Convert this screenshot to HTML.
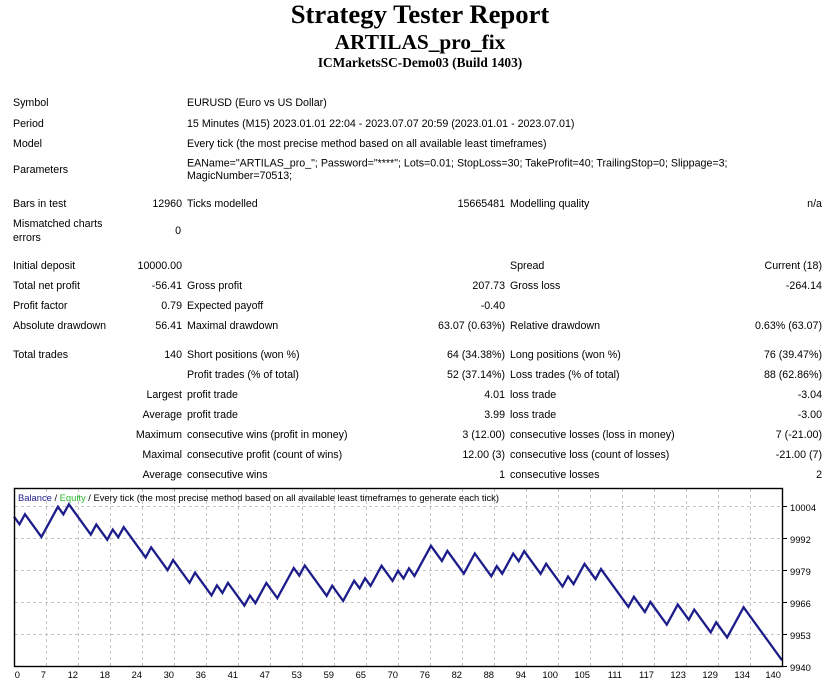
<!DOCTYPE html>
<html>
<head>
<meta charset="utf-8">
<style>
html,body{margin:0;padding:0;background:#fff;}
svg{display:block;}
.t{font-family:"Liberation Sans",Arial,sans-serif;font-size:10.67px;fill:#000;}
.r{text-anchor:end;}
.h{font-family:"Liberation Serif","Times New Roman",serif;font-weight:bold;fill:#000;text-anchor:middle;}
.c{font-family:"Liberation Sans",Arial,sans-serif;font-size:9.4px;fill:#000;}
</style>
</head>
<body>
<svg width="839" height="687" viewBox="0 0 839 687" xmlns="http://www.w3.org/2000/svg">
<rect width="839" height="687" fill="#fff"/>

<!-- Header -->
<text class="h" x="420" y="23" font-size="26.67">Strategy Tester Report</text>
<text class="h" x="420" y="49" font-size="21.33">ARTILAS_pro_fix</text>
<text class="h" x="420" y="67" font-size="13.33">ICMarketsSC-Demo03 (Build 1403)</text>

<!-- Info block -->
<text class="t" x="13" y="106">Symbol</text>
<text class="t" x="187" y="106">EURUSD (Euro vs US Dollar)</text>

<text class="t" x="13" y="127">Period</text>
<text class="t" x="187" y="127">15 Minutes (M15) 2023.01.01 22:04 - 2023.07.07 20:59 (2023.01.01 - 2023.07.01)</text>

<text class="t" x="13" y="147">Model</text>
<text class="t" x="187" y="147">Every tick (the most precise method based on all available least timeframes)</text>

<text class="t" x="13" y="173">Parameters</text>
<text class="t" x="187" y="166.5">EAName="ARTILAS_pro_"; Password="****"; Lots=0.01; StopLoss=30; TakeProfit=40; TrailingStop=0; Slippage=3;</text>
<text class="t" x="187" y="179">MagicNumber=70513;</text>

<text class="t" x="13" y="207">Bars in test</text>
<text class="t r" x="182" y="207">12960</text>
<text class="t" x="187" y="207">Ticks modelled</text>
<text class="t r" x="505" y="207">15665481</text>
<text class="t" x="510" y="207">Modelling quality</text>
<text class="t r" x="822" y="207">n/a</text>

<text class="t" x="13" y="227">Mismatched charts</text>
<text class="t" x="13" y="241">errors</text>
<text class="t r" x="181" y="234">0</text>

<!-- Results -->
<text class="t" x="13" y="269">Initial deposit</text>
<text class="t r" x="182" y="269">10000.00</text>
<text class="t" x="510" y="269">Spread</text>
<text class="t r" x="822" y="269">Current (18)</text>

<text class="t" x="13" y="289">Total net profit</text>
<text class="t r" x="182" y="289">-56.41</text>
<text class="t" x="187" y="289">Gross profit</text>
<text class="t r" x="505" y="289">207.73</text>
<text class="t" x="510" y="289">Gross loss</text>
<text class="t r" x="822" y="289">-264.14</text>

<text class="t" x="13" y="309">Profit factor</text>
<text class="t r" x="182" y="309">0.79</text>
<text class="t" x="187" y="309">Expected payoff</text>
<text class="t r" x="505" y="309">-0.40</text>

<text class="t" x="13" y="329">Absolute drawdown</text>
<text class="t r" x="182" y="329">56.41</text>
<text class="t" x="187" y="329">Maximal drawdown</text>
<text class="t r" x="505" y="329">63.07 (0.63%)</text>
<text class="t" x="510" y="329">Relative drawdown</text>
<text class="t r" x="822" y="329">0.63% (63.07)</text>

<text class="t" x="13" y="358">Total trades</text>
<text class="t r" x="182" y="358">140</text>
<text class="t" x="187" y="358">Short positions (won %)</text>
<text class="t r" x="505" y="358">64 (34.38%)</text>
<text class="t" x="510" y="358">Long positions (won %)</text>
<text class="t r" x="822" y="358">76 (39.47%)</text>

<text class="t" x="187" y="378">Profit trades (% of total)</text>
<text class="t r" x="505" y="378">52 (37.14%)</text>
<text class="t" x="510" y="378">Loss trades (% of total)</text>
<text class="t r" x="822" y="378">88 (62.86%)</text>

<text class="t r" x="182" y="398">Largest</text>
<text class="t" x="187" y="398">profit trade</text>
<text class="t r" x="505" y="398">4.01</text>
<text class="t" x="510" y="398">loss trade</text>
<text class="t r" x="822" y="398">-3.04</text>

<text class="t r" x="182" y="418">Average</text>
<text class="t" x="187" y="418">profit trade</text>
<text class="t r" x="505" y="418">3.99</text>
<text class="t" x="510" y="418">loss trade</text>
<text class="t r" x="822" y="418">-3.00</text>

<text class="t r" x="182" y="438">Maximum</text>
<text class="t" x="187" y="438">consecutive wins (profit in money)</text>
<text class="t r" x="505" y="438">3 (12.00)</text>
<text class="t" x="510" y="438">consecutive losses (loss in money)</text>
<text class="t r" x="822" y="438">7 (-21.00)</text>

<text class="t r" x="182" y="458">Maximal</text>
<text class="t" x="187" y="458">consecutive profit (count of wins)</text>
<text class="t r" x="505" y="458">12.00 (3)</text>
<text class="t" x="510" y="458">consecutive loss (count of losses)</text>
<text class="t r" x="822" y="458">-21.00 (7)</text>

<text class="t r" x="182" y="478">Average</text>
<text class="t" x="187" y="478">consecutive wins</text>
<text class="t r" x="505" y="478">1</text>
<text class="t" x="510" y="478">consecutive losses</text>
<text class="t r" x="822" y="478">2</text>

<!-- Chart grid -->
<g stroke="#c4c4c4" stroke-width="1" stroke-dasharray="3,3" fill="none">
  <line x1="15" y1="506.5" x2="782" y2="506.5"/>
  <line x1="15" y1="538.5" x2="782" y2="538.5"/>
  <line x1="15" y1="570.5" x2="782" y2="570.5"/>
  <line x1="15" y1="602.5" x2="782" y2="602.5"/>
  <line x1="15" y1="634.5" x2="782" y2="634.5"/>
  <line x1="46.5" y1="489" x2="46.5" y2="666"/>
  <line x1="78.5" y1="489" x2="78.5" y2="666"/>
  <line x1="110.5" y1="489" x2="110.5" y2="666"/>
  <line x1="142.5" y1="489" x2="142.5" y2="666"/>
  <line x1="174.5" y1="489" x2="174.5" y2="666"/>
  <line x1="206.5" y1="489" x2="206.5" y2="666"/>
  <line x1="238.5" y1="489" x2="238.5" y2="666"/>
  <line x1="270.5" y1="489" x2="270.5" y2="666"/>
  <line x1="302.5" y1="489" x2="302.5" y2="666"/>
  <line x1="334.5" y1="489" x2="334.5" y2="666"/>
  <line x1="366.5" y1="489" x2="366.5" y2="666"/>
  <line x1="398.5" y1="489" x2="398.5" y2="666"/>
  <line x1="430.5" y1="489" x2="430.5" y2="666"/>
  <line x1="462.5" y1="489" x2="462.5" y2="666"/>
  <line x1="494.5" y1="489" x2="494.5" y2="666"/>
  <line x1="526.5" y1="489" x2="526.5" y2="666"/>
  <line x1="558.5" y1="489" x2="558.5" y2="666"/>
  <line x1="590.5" y1="489" x2="590.5" y2="666"/>
  <line x1="622.5" y1="489" x2="622.5" y2="666"/>
  <line x1="654.5" y1="489" x2="654.5" y2="666"/>
  <line x1="686.5" y1="489" x2="686.5" y2="666"/>
  <line x1="718.5" y1="489" x2="718.5" y2="666"/>
  <line x1="750.5" y1="489" x2="750.5" y2="666"/>
</g>

<!-- Chart title -->
<text class="c" x="18" y="501" textLength="481" lengthAdjust="spacingAndGlyphs"><tspan fill="#1c1c8a">Balance</tspan> / <tspan fill="#2cb82c">Equity</tspan> / Every tick (the most precise method based on all available least timeframes to generate each tick)</text>

<!-- Balance line -->
<polyline fill="none" stroke="#1c1c8a" stroke-width="2.3" stroke-linejoin="miter" stroke-linecap="butt" points="14,516.7 19.49,524.27 24.97,514.22 41.43,536.93 57.89,506.78 63.37,514.35 68.86,504.3 90.8,534.58 96.29,524.53 107.26,539.67 112.74,529.62 118.23,537.19 123.71,527.14 145.66,557.42 151.14,547.37 167.6,570.08 173.09,560.03 189.54,582.74 195.03,572.69 211.49,595.4 216.97,585.35 222.46,592.92 227.94,582.87 244.4,605.58 249.89,595.53 255.37,603.1 266.34,583 277.31,598.14 293.77,567.99 299.26,575.56 304.74,565.51 326.69,595.79 332.17,585.74 343.14,600.88 354.11,580.78 359.6,588.35 365.09,578.3 370.57,585.87 381.54,565.77 392.51,580.91 398,570.86 403.49,578.43 408.97,568.38 414.46,575.95 430.91,545.8 441.89,560.94 447.37,550.89 463.83,573.6 474.8,553.5 491.26,576.21 496.74,566.16 502.23,573.73 513.2,553.63 518.69,561.2 524.17,551.15 540.63,573.86 546.11,563.81 562.57,586.52 568.06,576.47 573.54,584.04 584.51,563.94 595.49,579.08 600.97,569.03 628.4,606.88 633.89,596.83 644.86,611.97 650.34,601.92 666.8,624.63 677.77,604.53 688.74,619.67 694.23,609.62 710.69,632.33 716.17,622.28 727.14,637.42 743.6,607.27 782,660.26"/>

<!-- Frame -->
<rect x="14.5" y="488.5" width="768" height="178" fill="none" stroke="#000" stroke-width="1.4"/>

<!-- Right ticks -->
<g stroke="#000" stroke-width="1">
  <line x1="783" y1="506.5" x2="787" y2="506.5"/>
  <line x1="783" y1="538.5" x2="787" y2="538.5"/>
  <line x1="783" y1="570.5" x2="787" y2="570.5"/>
  <line x1="783" y1="602.5" x2="787" y2="602.5"/>
  <line x1="783" y1="634.5" x2="787" y2="634.5"/>
  <line x1="783" y1="666.5" x2="787" y2="666.5"/>
</g>

<!-- Y labels -->
<text class="c" x="790" y="511">10004</text>
<text class="c" x="790" y="543">9992</text>
<text class="c" x="790" y="575">9979</text>
<text class="c" x="790" y="607">9966</text>
<text class="c" x="790" y="639">9953</text>
<text class="c" x="790" y="671">9940</text>

<!-- X labels -->
<g class="c" text-anchor="end">
  <text x="20" y="678">0</text>
  <text x="46" y="678">7</text>
  <text x="78" y="678">12</text>
  <text x="110" y="678">18</text>
  <text x="142" y="678">24</text>
  <text x="174" y="678">30</text>
  <text x="206" y="678">36</text>
  <text x="238" y="678">41</text>
  <text x="270" y="678">47</text>
  <text x="302" y="678">53</text>
  <text x="334" y="678">59</text>
  <text x="366" y="678">65</text>
  <text x="398" y="678">70</text>
  <text x="430" y="678">76</text>
  <text x="462" y="678">82</text>
  <text x="494" y="678">88</text>
  <text x="526" y="678">94</text>
  <text x="558" y="678">100</text>
  <text x="590" y="678">105</text>
  <text x="622" y="678">111</text>
  <text x="654" y="678">117</text>
  <text x="686" y="678">123</text>
  <text x="718" y="678">129</text>
  <text x="750" y="678">134</text>
  <text x="781" y="678">140</text>
</g>
</svg>
</body>
</html>
